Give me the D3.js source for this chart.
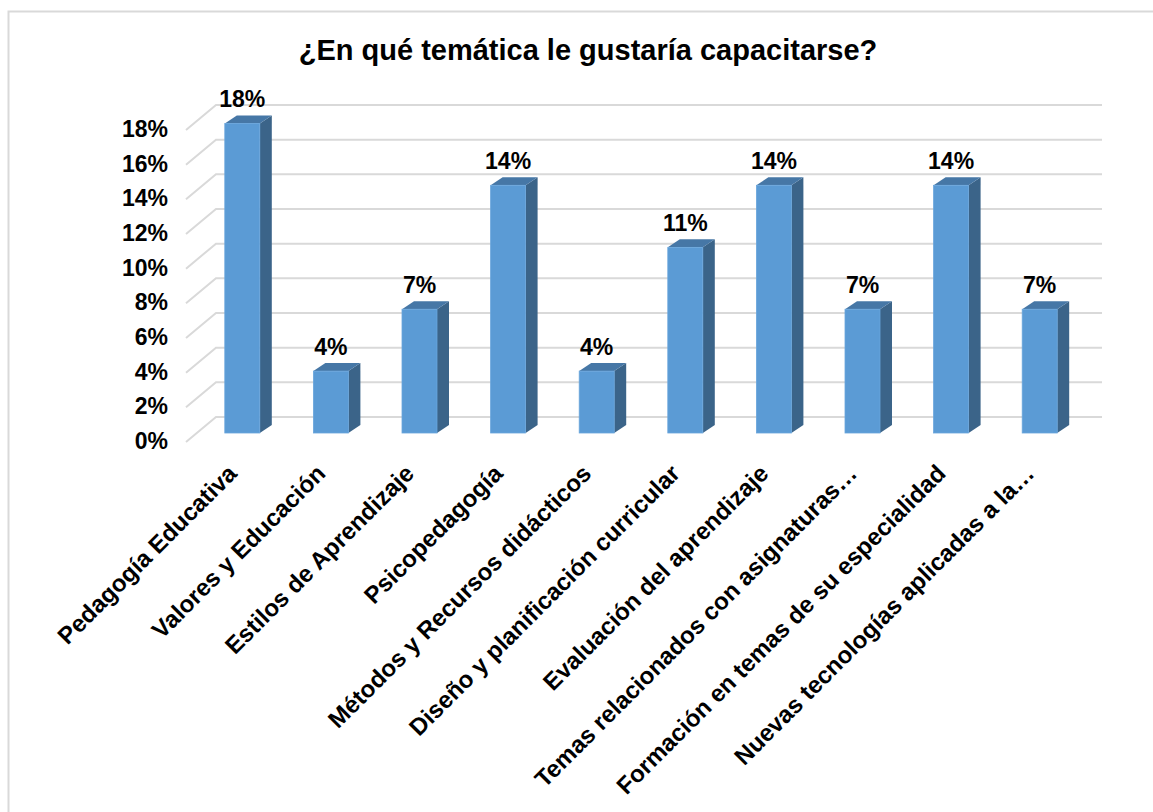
<!DOCTYPE html>
<html>
<head>
<meta charset="utf-8">
<script src="https://cdn.jsdelivr.net/npm/d3@7"></script>
<style>
  body { margin: 0; background: #fff; }
  text { font-family: "Liberation Sans", Arial, sans-serif; font-weight: bold; fill: #000; }
</style>
</head>
<body>
<svg id="chart" width="1153" height="812"></svg>
<script>
const categories = [
  "Pedagogía Educativa",
  "Valores y Educación",
  "Estilos de Aprendizaje",
  "Psicopedagogía",
  "Métodos y Recursos didácticos",
  "Diseño y planificación curricular",
  "Evaluación del aprendizaje",
  "Temas relacionados con asignaturas…",
  "Formación en temas de su especialidad",
  "Nuevas tecnologías aplicadas a la…"
];
const values = [17.86, 3.57, 7.14, 14.29, 3.57, 10.71, 14.29, 7.14, 14.29, 7.14];
const yTicks = [0, 2, 4, 6, 8, 10, 12, 14, 16, 18];
const title = "¿En qué temática le gustaría capacitarse?";

const svg = d3.select("#chart");

// chart area border
svg.append("rect")
  .attr("x", 8.5).attr("y", 11.5)
  .attr("width", 1200).attr("height", 900)
  .attr("fill", "none")
  .attr("stroke", "#d9d9d9")
  .attr("stroke-width", 2);

svg.append("text")
  .attr("x", 588).attr("y", 60)
  .attr("text-anchor", "middle")
  .style("font-size", "29px")
  .text(title);

// back wall scales
const x = d3.scaleBand().domain(categories).range([216, 1102]);
const y = d3.scaleLinear().domain([0, 18]).range([417, 105]);

const floor = { dx: -30, dy: 25 };    // front edge of floor
const front = { dx: -18, dy: 16 };    // bar front face
const back = { dx: -6, dy: 8 };       // bar back face
const barW = 35;

// gridlines with the little diagonal on the left side wall
svg.append("g")
  .selectAll("path")
  .data(yTicks)
  .join("path")
  .attr("d", d => {
    const yy = y(d);
    return `M${x.range()[0] + floor.dx},${yy + floor.dy}L${x.range()[0]},${yy}L${x.range()[1]},${yy}`;
  })
  .attr("fill", "none")
  .attr("stroke", "#d9d9d9")
  .attr("stroke-width", 2);

svg.append("g")
  .selectAll("text")
  .data(yTicks)
  .join("text")
  .attr("x", 168)
  .attr("y", d => y(d) + floor.dy - 1)
  .attr("dy", "0.35em")
  .attr("text-anchor", "end")
  .style("font-size", "23px")
  .text(d => d + "%");

const data = categories.map((c, i) => ({ cat: c, v: values[i] }));

const bars = svg.append("g")
  .selectAll("g")
  .data(data)
  .join("g");

const geo = d => {
  const cx = x(d.cat) + x.bandwidth() / 2;
  const fl = cx - barW / 2 + front.dx;
  const bl = cx - barW / 2 + back.dx;
  return {
    fl, bl,
    ft: y(d.v) + front.dy, fb: y(0) + front.dy,
    bt: y(d.v) + back.dy, bb: y(0) + back.dy
  };
};

bars.append("path")
  .attr("fill", "#3b6489")
  .attr("d", d => {
    const g = geo(d);
    return `M${g.fl + barW},${g.ft}L${g.bl + barW},${g.bt}L${g.bl + barW},${g.bb}L${g.fl + barW},${g.fb}Z`;
  });

bars.append("path")
  .attr("fill", "#4677a6")
  .attr("d", d => {
    const g = geo(d);
    return `M${g.fl},${g.ft}L${g.bl},${g.bt}L${g.bl + barW},${g.bt}L${g.fl + barW},${g.ft}Z`;
  });

bars.append("rect")
  .attr("fill", "#5b9bd5")
  .attr("stroke", "#6aa6dc")
  .attr("stroke-width", 0.8)
  .attr("x", d => geo(d).fl)
  .attr("y", d => geo(d).ft)
  .attr("width", barW)
  .attr("height", d => geo(d).fb - geo(d).ft);

bars.append("text")
  .attr("x", d => geo(d).fl + barW / 2)
  .attr("y", d => geo(d).ft - 16)
  .attr("text-anchor", "middle")
  .style("font-size", "23px")
  .text(d => Math.round(d.v) + "%");

// rotated category labels
svg.append("g")
  .selectAll("text")
  .data(data)
  .join("text")
  .attr("transform", d => `translate(${geo(d).fl + barW / 2 - 4},${y(0) + floor.dy + 33}) rotate(-45)`)
  .attr("text-anchor", "end")
  .style("font-size", "24px")
  .text(d => d.cat);
</script>
</body>
</html>
